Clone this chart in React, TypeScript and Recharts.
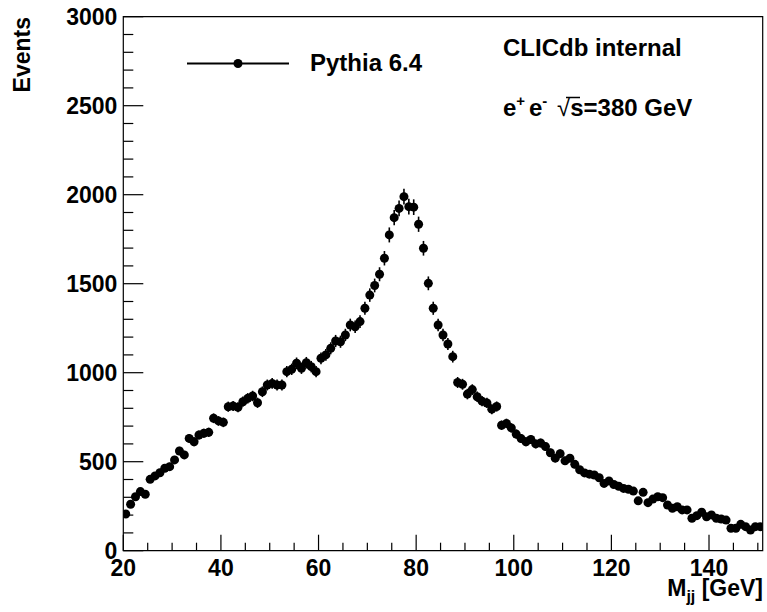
import { ErrorBar, ReferenceArea, Scatter, ScatterChart, XAxis, YAxis } from "recharts";

// Dijet invariant mass, 1 GeV bins starting at 20 GeV
const massLow = 20;
const binWidth = 1;

const eventsRising = [
  206, 261, 303, 332, 317, 401, 420, 438, 463, 472,
  510, 560, 538, 631, 612, 650, 660, 665, 744, 729,
  721, 809, 813, 806, 837, 856, 869, 831, 893, 931,
  940, 931, 931, 1006, 1019, 1053, 1025, 1056, 1034, 1006
];
const eventsPeak = [
  1081, 1100, 1137, 1178, 1174, 1212, 1268, 1258, 1287, 1362,
  1436, 1490, 1553, 1643, 1774, 1871, 1923, 1989, 1933, 1930,
  1834, 1699, 1502, 1362, 1268, 1212, 1161, 1090, 945, 935,
  880, 905, 865, 840, 830, 795, 810, 705, 715, 690
];
const eventsTail = [
  655, 630, 612, 625, 600, 605, 585, 550, 520, 545,
  505, 520, 485, 455, 437, 430, 425, 410, 378, 392,
  372, 362, 350, 345, 335, 280, 328, 270, 290, 303,
  298, 257, 238, 247, 229, 229, 182, 197, 216, 191,
  201, 182, 178, 172, 126, 126, 148, 135, 116, 135,
  135
];

const xMajorTicks = [20, 40, 60, 80, 100, 120, 140];
const xMinorStep = 5;
const xMax = 151;
const yMajorTicks = [0, 500, 1000, 1500, 2000, 2500, 3000];
const yMinorStep = 100;
const yMax = 3000;

const seriesName = "Pythia 6.4";
const labelTop = "CLICdb internal";

const events = [...eventsRising, ...eventsPeak, ...eventsTail];
const data = events.map((n, i) => ({
  x: massLow + binWidth * (i + 0.5),
  y: n,
  err: Math.sqrt(n) // Poisson errors, as in the histogram
}));

const xTicks: number[] = [];
for (let v = massLow; v <= xMax; v += xMinorStep) xTicks.push(v);
const yTicks: number[] = [];
for (let v = 0; v <= yMax; v += yMinorStep) yTicks.push(v);

const font = "'Liberation Sans', Arial, Helvetica, sans-serif";

const XTick = (props: any) => {
  const { x, y, payload } = props;
  const major = xMajorTicks.includes(payload.value);
  return (
    <g>
      <line x1={x} x2={x} y1={y} y2={y - (major ? 16 : 8)} stroke="#000" strokeWidth={1.2} />
      {major && (
        <text x={x} y={y + 25} textAnchor="middle" fontSize={23} fontWeight="bold" fontFamily={font} fill="#000">
          {payload.value}
        </text>
      )}
    </g>
  );
};

const YTick = (props: any) => {
  const { x, y, payload } = props;
  const major = yMajorTicks.includes(payload.value);
  return (
    <g>
      <line x1={x} x2={x + (major ? 20 : 10)} y1={y} y2={y} stroke="#000" strokeWidth={1.2} />
      {major && (
        <text x={x - 6} y={y + 8} textAnchor="end" fontSize={23} fontWeight="bold" fontFamily={font} fill="#000">
          {payload.value}
        </text>
      )}
    </g>
  );
};

const Dot = (props: any) => <circle cx={props.cx} cy={props.cy} r={4.5} fill="#000" />;

const Overlay = () => (
  <svg
    width={767}
    height={612}
    style={{ position: "absolute", left: 0, top: 0, pointerEvents: "none" }}
    fontFamily={font}
    fontWeight="bold"
    fill="#000"
  >
    {/* legend */}
    <line x1={187} x2={289} y1={63.5} y2={63.5} stroke="#000" strokeWidth={2} />
    <circle cx={238} cy={63.5} r={4.5} fill="#000" />
    <text x={310} y={71} fontSize={24}>{seriesName}</text>

    <text x={503} y={56} fontSize={24}>{labelTop}</text>
    <text x={503} y={116} fontSize={24}>
      e<tspan fontSize={15} dy={-10}>+</tspan>
      <tspan x={529} dy={10}>e</tspan>
      <tspan fontSize={15} dy={-10}>-</tspan>
      <tspan x={557} dy={10} fontWeight="normal">√</tspan>
      <tspan>s=380 GeV</tspan>
    </text>
    <line x1={566} x2={580} y1={97.5} y2={97.5} stroke="#000" strokeWidth={1.5} />

    {/* axis titles */}
    <text x={30} y={17} fontSize={23} textAnchor="end" transform="rotate(-90 30 17)">Events</text>
    <text x={763} y={596} fontSize={23} textAnchor="end">
      M<tspan fontSize={16} dy={6}>jj</tspan>
      <tspan dy={-6}> [GeV]</tspan>
    </text>
  </svg>
);

export default function App() {
  return (
    <div style={{ position: "absolute", left: 0, top: 0, width: 767, height: 612, background: "#fff" }}>
      <ScatterChart width={767} height={612} margin={{ top: 16.7, right: 4.3, bottom: 21.3, left: 63.3 }}>
        <XAxis
          type="number"
          dataKey="x"
          domain={[massLow, xMax]}
          ticks={xTicks}
          interval={0}
          tickSize={0}
          tickMargin={0}
          axisLine={false}
          tickLine={false}
          tick={<XTick />}
          height={40}
          allowDataOverflow
        />
        <YAxis
          type="number"
          dataKey="y"
          domain={[0, yMax]}
          ticks={yTicks}
          interval={0}
          tickSize={0}
          tickMargin={0}
          axisLine={false}
          tickLine={false}
          tick={<YTick />}
          width={60}
          allowDataOverflow
        />
        <ReferenceArea
          x1={massLow}
          x2={xMax}
          y1={0}
          y2={yMax}
          fill="none"
          stroke="#000"
          strokeWidth={1.2}
          ifOverflow="visible"
        />
        <Scatter data={data} shape={<Dot />} isAnimationActive={false}>
          <ErrorBar dataKey="err" direction="y" width={0} stroke="#000" strokeWidth={1.6} />
        </Scatter>
      </ScatterChart>
      <Overlay />
    </div>
  );
}
